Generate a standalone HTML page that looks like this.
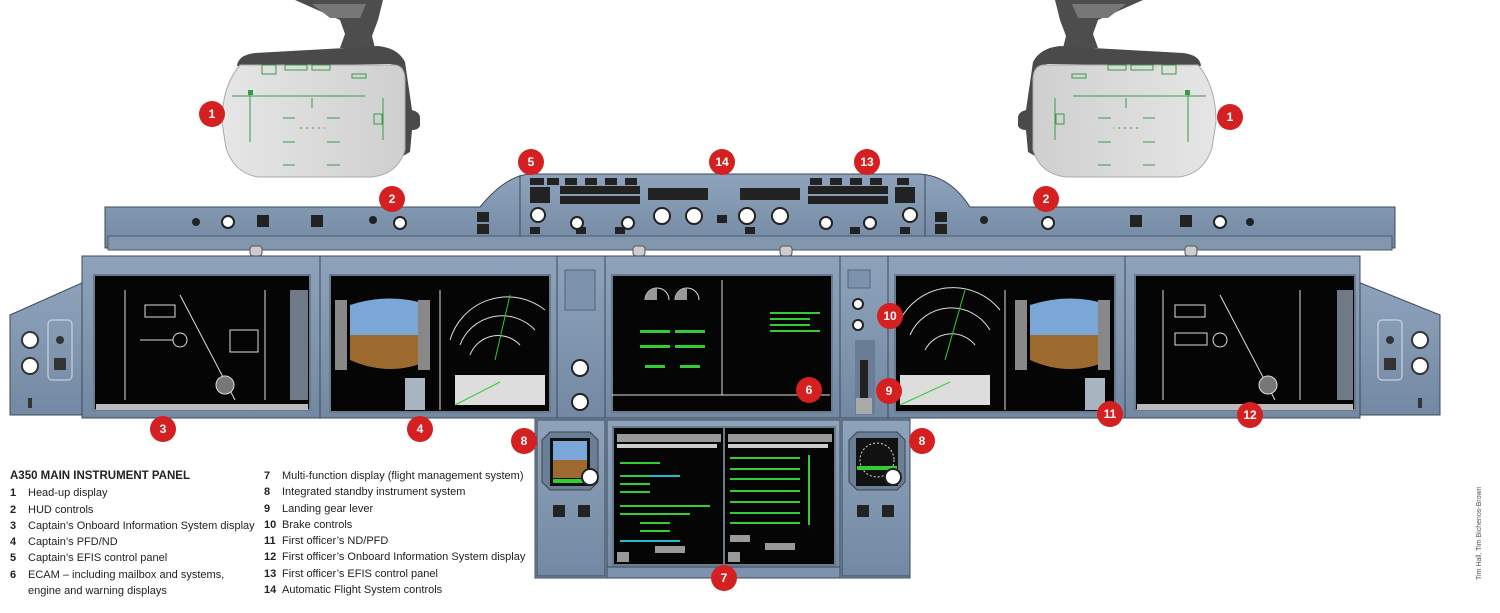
<!DOCTYPE html>
<html><head><meta charset="utf-8"><style>
html,body{margin:0;padding:0;background:#fff;}
body{width:1500px;height:613px;overflow:hidden;position:relative;font-family:"Liberation Sans",sans-serif;}
.leg{position:absolute;font-size:11px;color:#222;line-height:16.3px;}
.leg b{display:inline-block;width:18px;}
</style></head><body>
<svg width="1500" height="613" viewBox="0 0 1500 613" style="position:absolute;left:0;top:0">
<defs>
<linearGradient id="pan" x1="0" y1="0" x2="0" y2="1"><stop offset="0" stop-color="#8ea3bb"/><stop offset="1" stop-color="#7389a3"/></linearGradient>
<linearGradient id="hud" x1="0" y1="0" x2="1" y2="0"><stop offset="0" stop-color="#e6e6e6"/><stop offset="1" stop-color="#cfcfcf"/></linearGradient>
<g id="hudg">
<path d="M295 0 L383 0 L378 20 L372 36 L375 48 L340 48 L345 34 L340 20 Z" fill="#4d4d4d"/>
<path d="M312 4 L366 4 L360 18 L330 18 Z" fill="#777"/>
<path d="M237 66 Q238 55 255 53 L345 48 L378 46 Q398 48 405 62 L412 110 Q420 112 420 118 L420 126 Q418 130 412 130 L410 152 L403 156 L403 72 Q400 65 390 64 Z" fill="#4a4a4a"/>
<path d="M240 65 L395 65 Q404 66 405 78 L405 150 Q398 174 372 177 L258 177 Q234 173 226 148 L222 122 Q222 86 240 65 Z" fill="url(#hud)" stroke="#aaa"/>
<g stroke="#3a9a48" stroke-width="1" fill="none">
<rect x="262" y="65" width="14" height="9"/><rect x="285" y="65" width="22" height="5"/><rect x="312" y="65" width="18" height="5"/><rect x="352" y="74" width="14" height="4"/>
<line x1="232" y1="96" x2="365" y2="96"/><line x1="250" y1="95" x2="250" y2="142"/><line x1="383" y1="98" x2="383" y2="140"/>
<line x1="283" y1="118" x2="295" y2="118"/><line x1="327" y1="118" x2="340" y2="118"/><line x1="283" y1="142" x2="295" y2="142"/><line x1="327" y1="142" x2="340" y2="142"/>
<line x1="283" y1="165" x2="295" y2="165"/><line x1="327" y1="165" x2="340" y2="165"/><line x1="300" y1="128" x2="325" y2="128" stroke-dasharray="2 4"/><line x1="312" y1="98" x2="312" y2="108"/>
<rect x="374" y="114" width="8" height="10"/></g>
<rect x="248" y="90" width="5" height="5" fill="#3a9a48"/>
</g>
</defs>
<use href="#hudg"/>
<use href="#hudg" transform="translate(1438,0) scale(-1,1)"/>
<!-- glareshield -->
<path d="M105 207 L480 207 Q505 176 530 174 L920 174 Q950 176 970 207 L1395 207 L1395 248 L105 248 Z" fill="url(#pan)" stroke="#3d4a5a"/>
<line x1="520" y1="175" x2="520" y2="248" stroke="#3d4a5a"/><line x1="925" y1="175" x2="925" y2="248" stroke="#3d4a5a"/>
<rect x="108" y="236" width="1284" height="14" fill="#8296ae" stroke="#4a5a6e"/>
<g fill="#222"><rect x="530" y="178" width="14" height="7"/><rect x="547" y="178" width="12" height="7"/><rect x="565" y="178" width="12" height="7"/><rect x="585" y="178" width="12" height="7"/><rect x="605" y="178" width="12" height="7"/><rect x="625" y="178" width="12" height="7"/>
<rect x="530" y="187" width="20" height="16"/><rect x="560" y="186" width="80" height="8"/><rect x="560" y="196" width="80" height="8"/>
<rect x="648" y="188" width="60" height="12"/><rect x="740" y="188" width="60" height="12"/>
<rect x="808" y="186" width="80" height="8"/><rect x="808" y="196" width="80" height="8"/><rect x="895" y="187" width="20" height="16"/>
<rect x="810" y="178" width="12" height="7"/><rect x="830" y="178" width="12" height="7"/><rect x="850" y="178" width="12" height="7"/><rect x="870" y="178" width="12" height="7"/><rect x="897" y="178" width="12" height="7"/>
<rect x="257" y="215" width="12" height="12"/><rect x="311" y="215" width="12" height="12"/><rect x="477" y="212" width="12" height="10"/><rect x="477" y="224" width="12" height="10"/>
<rect x="935" y="212" width="12" height="10"/><rect x="935" y="224" width="12" height="10"/><rect x="1130" y="215" width="12" height="12"/><rect x="1180" y="215" width="12" height="12"/>
<rect x="530" y="227" width="10" height="7"/><rect x="576" y="227" width="10" height="7"/><rect x="615" y="227" width="10" height="7"/><rect x="745" y="227" width="10" height="7"/><rect x="850" y="227" width="10" height="7"/><rect x="900" y="227" width="10" height="7"/><rect x="717" y="215" width="10" height="8"/></g>
<g fill="#fff" stroke="#222" stroke-width="2"><circle cx="538" cy="215" r="7"/><circle cx="577" cy="223" r="6"/><circle cx="628" cy="223" r="6"/><circle cx="662" cy="216" r="8"/><circle cx="694" cy="216" r="8"/><circle cx="747" cy="216" r="8"/><circle cx="780" cy="216" r="8"/><circle cx="826" cy="223" r="6"/><circle cx="870" cy="223" r="6"/><circle cx="910" cy="215" r="7"/>
<circle cx="228" cy="222" r="6"/><circle cx="400" cy="223" r="6"/><circle cx="1048" cy="223" r="6"/><circle cx="1220" cy="222" r="6"/></g>
<g fill="#222"><circle cx="196" cy="222" r="4"/><circle cx="373" cy="220" r="4"/><circle cx="984" cy="220" r="4"/><circle cx="1250" cy="222" r="4"/></g>
<g fill="#ccc" stroke="#555"><rect x="250" y="246" width="12" height="10" rx="3"/><rect x="633" y="246" width="12" height="10" rx="3"/><rect x="780" y="246" width="12" height="10" rx="3"/><rect x="1185" y="246" width="12" height="10" rx="3"/></g>
<!-- side panels -->
<path d="M10 315 L84 282 L84 415 L10 415 Z" fill="url(#pan)" stroke="#3d4a5a"/>
<path d="M1440 315 L1358 282 L1358 415 L1440 415 Z" fill="url(#pan)" stroke="#3d4a5a"/>
<!-- main panel -->
<rect x="82" y="256" width="1278" height="162" fill="url(#pan)" stroke="#3d4a5a"/>
<g stroke="#3d4a5a" fill="none"><line x1="320" y1="256" x2="320" y2="418"/><line x1="557" y1="256" x2="557" y2="418"/><line x1="605" y1="256" x2="605" y2="418"/><line x1="840" y1="256" x2="840" y2="418"/><line x1="888" y1="256" x2="888" y2="418"/><line x1="1125" y1="256" x2="1125" y2="418"/></g>
<rect x="94" y="275" width="216" height="135" fill="#050505" stroke="#6c7b8c" stroke-width="2"/>
<rect x="330" y="275" width="220" height="137" fill="#050505" stroke="#6c7b8c" stroke-width="2"/>
<rect x="612" y="275" width="220" height="137" fill="#050505" stroke="#6c7b8c" stroke-width="2"/>
<rect x="895" y="275" width="220" height="137" fill="#050505" stroke="#6c7b8c" stroke-width="2"/>
<rect x="1135" y="275" width="220" height="135" fill="#050505" stroke="#6c7b8c" stroke-width="2"/>
<g stroke="#ddd" fill="none" stroke-width="1"><line x1="125" y1="290" x2="125" y2="400"/><line x1="265" y1="290" x2="265" y2="400"/><line x1="180" y1="295" x2="235" y2="400"/><circle cx="180" cy="340" r="7"/><line x1="140" y1="340" x2="173" y2="340"/><circle cx="225" cy="385" r="9" fill="#777"/><rect x="145" y="305" width="30" height="12"/><rect x="230" y="330" width="28" height="22"/>
<line x1="1163" y1="290" x2="1163" y2="400"/><line x1="1300" y1="290" x2="1300" y2="400"/><line x1="1220" y1="295" x2="1275" y2="400"/><circle cx="1220" cy="340" r="7"/><circle cx="1268" cy="385" r="9" fill="#777"/><rect x="1175" y="305" width="30" height="12"/><rect x="1175" y="333" width="32" height="12"/></g>
<rect x="96" y="404" width="212" height="6" fill="#bbb"/><rect x="1137" y="404" width="216" height="6" fill="#bbb"/>
<rect x="290" y="290" width="18" height="110" fill="#6f7a86"/><rect x="1337" y="290" width="16" height="110" fill="#6f7a86"/>
<path d="M350 305 Q390 292 430 305 L430 335 L350 335 Z" fill="#7aa7d8"/>
<path d="M350 335 L430 335 L430 360 Q390 378 350 360 Z" fill="#9c6a2e"/>
<rect x="335" y="300" width="12" height="70" fill="#888"/><rect x="418" y="300" width="12" height="70" fill="#888"/>
<g stroke="#ddd" fill="none"><path d="M450 340 A60 60 0 0 1 545 310"/><path d="M460 345 A45 45 0 0 1 535 330"/><path d="M470 355 A30 30 0 0 1 520 345"/><line x1="495" y1="360" x2="510" y2="295" stroke="#3c3"/><line x1="440" y1="290" x2="440" y2="410"/></g>
<rect x="455" y="375" width="90" height="30" fill="#ddd"/><line x1="455" y1="405" x2="500" y2="382" stroke="#3c3"/>
<rect x="405" y="378" width="20" height="32" fill="#a8b4c0"/>
<path d="M1030 305 Q1070 292 1110 305 L1110 335 L1030 335 Z" fill="#7aa7d8"/>
<path d="M1030 335 L1110 335 L1110 360 Q1070 378 1030 360 Z" fill="#9c6a2e"/>
<rect x="1015" y="300" width="12" height="70" fill="#888"/><rect x="1098" y="300" width="12" height="70" fill="#888"/>
<g stroke="#ddd" fill="none"><path d="M900 320 A60 60 0 0 1 1000 310"/><path d="M910 335 A45 45 0 0 1 990 330"/><path d="M925 350 A30 30 0 0 1 975 345"/><line x1="945" y1="360" x2="965" y2="290" stroke="#3c3"/><line x1="1005" y1="290" x2="1005" y2="410"/></g>
<rect x="900" y="375" width="90" height="30" fill="#ddd"/><line x1="900" y1="405" x2="950" y2="382" stroke="#3c3"/>
<rect x="1085" y="378" width="20" height="32" fill="#a8b4c0"/>
<g stroke="#ddd" fill="none"><path d="M645 300 A12 12 0 0 1 669 300"/><path d="M675 300 A12 12 0 0 1 699 300"/><line x1="722" y1="280" x2="722" y2="395"/><line x1="612" y1="395" x2="830" y2="395"/></g>
<path d="M657 300 L645 300 A12 12 0 0 1 657 288 Z" fill="#999"/><path d="M687 300 L675 300 A12 12 0 0 1 687 288 Z" fill="#999"/>
<g fill="#3c3"><rect x="640" y="330" width="30" height="3"/><rect x="675" y="330" width="30" height="3"/><rect x="640" y="345" width="30" height="3"/><rect x="675" y="345" width="30" height="3"/><rect x="645" y="365" width="20" height="3"/><rect x="680" y="365" width="20" height="3"/><rect x="770" y="312" width="50" height="2"/><rect x="770" y="318" width="40" height="2"/><rect x="770" y="324" width="40" height="2"/><rect x="770" y="330" width="50" height="2"/></g>
<g fill="#fff" stroke="#222" stroke-width="2"><circle cx="580" cy="368" r="8"/><circle cx="580" cy="402" r="8"/><circle cx="858" cy="304" r="5"/><circle cx="858" cy="325" r="5"/></g>
<rect x="565" y="270" width="30" height="40" fill="#7d93ad" stroke="#55657a"/>
<rect x="855" y="340" width="20" height="75" fill="#6a7d94"/><rect x="860" y="360" width="8" height="40" fill="#222"/><rect x="856" y="398" width="16" height="16" fill="#aaa"/>
<rect x="848" y="270" width="22" height="18" fill="#7d93ad" stroke="#55657a"/>
<!-- side panel items -->
<rect x="48" y="320" width="24" height="60" rx="4" fill="none" stroke="#dde" stroke-width="1"/>
<rect x="1378" y="320" width="24" height="60" rx="4" fill="none" stroke="#dde" stroke-width="1"/>
<g fill="#fff" stroke="#333" stroke-width="2"><circle cx="30" cy="340" r="8"/><circle cx="30" cy="366" r="8"/><circle cx="1420" cy="340" r="8"/><circle cx="1420" cy="366" r="8"/></g>
<g fill="#333"><circle cx="60" cy="340" r="4"/><rect x="54" y="358" width="12" height="12"/><circle cx="1390" cy="340" r="4"/><rect x="1384" y="358" width="12" height="12"/><rect x="28" y="398" width="4" height="10"/><rect x="1418" y="398" width="4" height="10"/></g>
<!-- pedestal -->
<rect x="535" y="418" width="375" height="160" fill="#8296ae" stroke="#3d4a5a"/>
<rect x="537" y="420" width="68" height="156" fill="url(#pan)" stroke="#3d4a5a"/>
<rect x="842" y="420" width="68" height="156" fill="url(#pan)" stroke="#3d4a5a"/>
<rect x="607" y="420" width="233" height="156" fill="url(#pan)" stroke="#3d4a5a"/>
<path d="M550 432 L590 432 L598 440 L598 482 L590 490 L550 490 L542 482 L542 440 Z" fill="#6a7e98" stroke="#444"/>
<rect x="550" y="438" width="40" height="48" fill="#111"/>
<path d="M553 441 L587 441 L587 460 L553 460 Z" fill="#7aa7d8"/><path d="M553 460 L587 460 L587 478 L553 478 Z" fill="#9c6a2e"/>
<rect x="553" y="479" width="34" height="4" fill="#3c3"/>
<circle cx="590" cy="477" r="8" fill="#fff" stroke="#222" stroke-width="2"/>
<path d="M857 432 L897 432 L905 440 L905 482 L897 490 L857 490 L849 482 L849 440 Z" fill="#6a7e98" stroke="#444"/>
<rect x="856" y="438" width="42" height="48" fill="#111"/><circle cx="877" cy="460" r="17" fill="none" stroke="#ddd" stroke-dasharray="2 2"/><rect x="857" y="466" width="40" height="4" fill="#3c3"/>
<circle cx="893" cy="477" r="8" fill="#fff" stroke="#222" stroke-width="2"/>
<g fill="#222"><rect x="553" y="505" width="12" height="12"/><rect x="578" y="505" width="12" height="12"/><rect x="857" y="505" width="12" height="12"/><rect x="882" y="505" width="12" height="12"/></g>
<rect x="613" y="427" width="222" height="138" fill="#050505" stroke="#6c7b8c" stroke-width="2"/>
<line x1="724" y1="427" x2="724" y2="565" stroke="#6c7b8c" stroke-width="2"/>
<g fill="#999"><rect x="617" y="434" width="104" height="8"/><rect x="728" y="434" width="104" height="8"/><rect x="617" y="444" width="100" height="4" fill="#ccc"/><rect x="728" y="444" width="100" height="4" fill="#ccc"/><rect x="655" y="546" width="30" height="7"/><rect x="765" y="543" width="30" height="7"/><rect x="730" y="535" width="20" height="7"/><rect x="617" y="552" width="12" height="10"/><rect x="728" y="552" width="12" height="10"/></g>
<g fill="#3c3"><rect x="620" y="462" width="40" height="2"/><rect x="620" y="475" width="30" height="2"/><rect x="650" y="475" width="30" height="2" fill="#2bc"/><rect x="620" y="483" width="30" height="2"/><rect x="620" y="491" width="30" height="2"/><rect x="620" y="505" width="90" height="2"/><rect x="620" y="513" width="70" height="2"/><rect x="640" y="522" width="30" height="2"/><rect x="640" y="530" width="30" height="2"/><rect x="620" y="540" width="60" height="2" fill="#2bc"/>
<rect x="730" y="457" width="70" height="2"/><rect x="730" y="468" width="70" height="2"/><rect x="730" y="478" width="70" height="2"/><rect x="730" y="490" width="70" height="2"/><rect x="730" y="501" width="70" height="2"/><rect x="730" y="512" width="70" height="2"/><rect x="730" y="522" width="70" height="2"/><rect x="808" y="455" width="2" height="70"/></g>
<rect x="607" y="567" width="233" height="11" fill="#7d93ad" stroke="#3d4a5a"/>
<g fill="#d42020"><circle cx="212" cy="114" r="13"/><circle cx="1230" cy="117" r="13"/><circle cx="392" cy="199" r="13"/><circle cx="1046" cy="199" r="13"/><circle cx="531" cy="162" r="13"/><circle cx="722" cy="162" r="13"/><circle cx="867" cy="162" r="13"/><circle cx="163" cy="429" r="13"/><circle cx="420" cy="429" r="13"/><circle cx="809" cy="390" r="13"/><circle cx="524" cy="441" r="13"/><circle cx="922" cy="441" r="13"/><circle cx="890" cy="316" r="13"/><circle cx="889" cy="391" r="13"/><circle cx="1110" cy="414" r="13"/><circle cx="1250" cy="415" r="13"/><circle cx="724" cy="578" r="13"/></g>
<g fill="#fff" font-family="Liberation Sans" font-weight="bold" font-size="12" text-anchor="middle"><text x="212" y="118">1</text><text x="1230" y="121">1</text><text x="392" y="203">2</text><text x="1046" y="203">2</text><text x="531" y="166">5</text><text x="722" y="166">14</text><text x="867" y="166">13</text><text x="163" y="433">3</text><text x="420" y="433">4</text><text x="809" y="394">6</text><text x="524" y="445">8</text><text x="922" y="445">8</text><text x="890" y="320">10</text><text x="889" y="395">9</text><text x="1110" y="418">11</text><text x="1250" y="419">12</text><text x="724" y="582">7</text></g>
<text transform="translate(1481,580) rotate(-90)" font-size="7" fill="#555" font-family="Liberation Sans">Tim Hall, Tim Bichenos-Brown</text>
</svg>
<div class="leg" style="left:10px;top:468px"><div style="font-weight:bold;font-size:11.5px;margin-bottom:1px">A350 MAIN INSTRUMENT PANEL</div>
<div><b>1</b>Head-up display</div><div><b>2</b>HUD controls</div><div><b>3</b>Captain’s Onboard Information System display</div><div><b>4</b>Captain’s PFD/ND</div><div><b>5</b>Captain’s EFIS control panel</div><div><b>6</b>ECAM – including mailbox and systems,</div><div><b></b>engine and warning displays</div></div>
<div class="leg" style="left:264px;top:468px"><div><b>7</b>Multi-function display (flight management system)</div><div><b>8</b>Integrated standby instrument system</div><div><b>9</b>Landing gear lever</div><div><b>10</b>Brake controls</div><div><b>11</b>First officer’s ND/PFD</div><div><b>12</b>First officer’s Onboard Information System display</div><div><b>13</b>First officer’s EFIS control panel</div><div><b>14</b>Automatic Flight System controls</div></div>
</body></html>
